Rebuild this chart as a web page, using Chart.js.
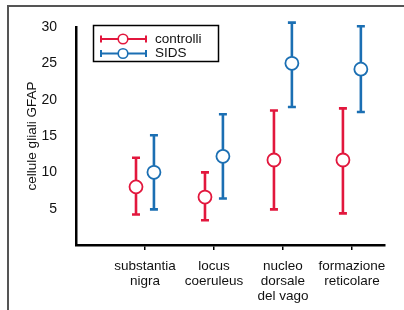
<!DOCTYPE html>
<html>
<head>
<meta charset="utf-8">
<script src="https://cdn.jsdelivr.net/npm/chart.js@4"></script>
<style>
  body { margin: 0; background: #fff; }
  #wrap { position: relative; width: 404px; height: 310px; }
  #frame { position: absolute; left: 7px; top: 5px; right: 0; bottom: 0;
           border-top: 2px solid #555; border-left: 2px solid #555; }
  #chart { position: absolute; left: 0; top: 0; }
</style>
</head>
<body>
<div id="wrap">
  <div id="frame"></div>
  <canvas id="chart" width="404" height="310"></canvas>
</div>
<script>
const categories = [['substantia', 'nigra'], ['locus', 'coeruleus'], ['nucleo', 'dorsale', 'del vago'], ['formazione', 'reticolare']];
const ctrlMean = [8.0, 6.6, 11.7, 11.7];
const ctrlLow  = [4.2, 3.4, 4.9, 4.35];
const ctrlHigh = [12.0, 10.0, 18.5, 18.8];
const sidsMean = [10.0, 12.2, 25.0, 24.2];
const sidsLow  = [4.9, 6.4, 19.0, 18.3];
const sidsHigh = [15.1, 18.0, 30.6, 30.1];
const yTicks = [5, 10, 15, 20, 25, 30];

const RED = '#e2173d';
const BLUE = '#1b6fb3';
const FONT = '"Liberation Sans", Arial, sans-serif';
const shift = 0.13;

const ctx = document.querySelector('#chart').getContext('2d');

// error bars under the circles
const errorBars = {
  id: 'errorBars',
  beforeDatasetsDraw(chart) {
    const c = chart.ctx;
    const y = chart.scales.y;
    chart.data.datasets.forEach(function(ds, di) {
      const meta = chart.getDatasetMeta(di);
      c.save();
      c.strokeStyle = ds.borderColor;
      c.lineWidth = 2.6;
      meta.data.forEach(function(pt, i) {
        const top = y.getPixelForValue(ds.high[i]);
        const bot = y.getPixelForValue(ds.low[i]);
        c.beginPath();
        c.moveTo(pt.x, top); c.lineTo(pt.x, bot);
        c.moveTo(pt.x - 4, top); c.lineTo(pt.x + 4, top);
        c.moveTo(pt.x - 4, bot); c.lineTo(pt.x + 4, bot);
        c.stroke();
      });
      c.restore();
    });
  }
};

// boxed legend with error-bar symbols
const boxLegend = {
  id: 'boxLegend',
  afterDraw(chart) {
    const c = chart.ctx;
    c.save();
    c.strokeStyle = '#000';
    c.lineWidth = 1.5;
    c.strokeRect(93.5, 25.5, 125, 36);
    chart.data.datasets.forEach(function(ds, di) {
      const ly = 39 + di * 14.5;
      c.strokeStyle = ds.borderColor;
      c.lineWidth = 2;
      c.beginPath();
      c.moveTo(101, ly); c.lineTo(146, ly);
      c.moveTo(101, ly - 3.5); c.lineTo(101, ly + 3.5);
      c.moveTo(146, ly - 3.5); c.lineTo(146, ly + 3.5);
      c.stroke();
      c.beginPath();
      c.arc(123, ly, 4.8, 0, Math.PI * 2);
      c.fillStyle = '#fff';
      c.fill();
      c.lineWidth = 1.6;
      c.stroke();
      c.fillStyle = '#111';
      c.font = '13.5px ' + FONT;
      c.textBaseline = 'middle';
      c.fillText(ds.label, 155, ly);
    });
    c.restore();
  }
};

let chart = new Chart(ctx, {
  type: 'scatter',
  data: {
    datasets: [{
      label: 'controlli',
      data: ctrlMean.map(function(v, i) { return {x: i + 1 - shift, y: v}; }),
      low: ctrlLow,
      high: ctrlHigh,
      borderColor: RED,
      backgroundColor: '#fff',
      pointRadius: 6.5,
      pointBorderWidth: 1.8,
      clip: false,
    }, {
      label: 'SIDS',
      data: sidsMean.map(function(v, i) { return {x: i + 1 + shift, y: v}; }),
      low: sidsLow,
      high: sidsHigh,
      borderColor: BLUE,
      backgroundColor: '#fff',
      pointRadius: 6.5,
      pointBorderWidth: 1.8,
      clip: false,
    }]
  },
  options: {
    responsive: false,
    animation: false,
    layout: { padding: { top: 27, right: 19, left: 0, bottom: 0 } },
    plugins: {
      legend: { display: false },
      tooltip: { enabled: false },
    },
    scales: {
      x: {
        type: 'linear',
        min: 0,
        max: 4.48,
        afterBuildTicks: function(scale) {
          scale.ticks = categories.map(function(c, i) { return {value: i + 1}; });
        },
        afterFit: function(scale) { scale.height = 65; },
        grid: {
          drawOnChartArea: false,
          drawTicks: true,
          tickLength: 5,
          color: '#000',
          lineWidth: 1.5,
        },
        border: { display: true, color: '#000', width: 2.5 },
        ticks: {
          color: '#111',
          padding: 9,
          maxRotation: 0,
          autoSkip: false,
          font: { family: FONT, size: 13.5, lineHeight: 1.1 },
          callback: function(v) { return categories[Math.round(v) - 1]; },
        },
      },
      y: {
        min: 0,
        max: 30,
        afterBuildTicks: function(scale) {
          scale.ticks = yTicks.map(function(v) { return {value: v}; });
        },
        afterFit: function(scale) { scale.width = 76; },
        grid: { display: false },
        border: { display: true, color: '#000', width: 2.5 },
        title: {
          display: true,
          text: 'cellule gliali GFAP',
          color: '#111',
          font: { family: FONT, size: 13.5 },
          padding: { top: 24, bottom: 0 },
        },
        ticks: {
          color: '#111',
          padding: 11,
          font: { family: FONT, size: 14 },
        },
      },
    },
  },
  plugins: [errorBars, boxLegend],
});
</script>
</body>
</html>
